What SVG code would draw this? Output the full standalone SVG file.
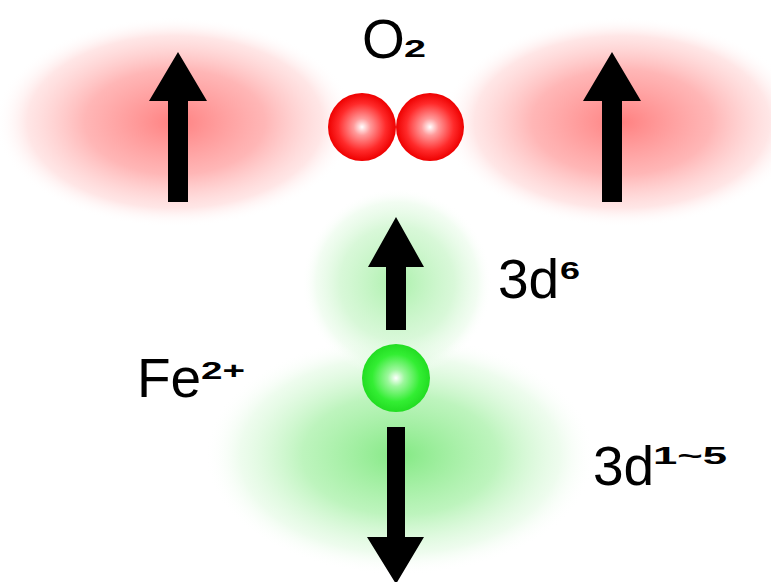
<svg xmlns="http://www.w3.org/2000/svg" width="771" height="582" viewBox="0 0 771 582">
<defs>
<radialGradient id="redCloud" cx="0.5" cy="0.5" r="0.5">
<stop offset="0" stop-color="#ff7a7a" stop-opacity="0.95"/>
<stop offset="0.5" stop-color="#ff9a9a" stop-opacity="0.72"/>
<stop offset="0.82" stop-color="#ffc4c4" stop-opacity="0.42"/>
<stop offset="1" stop-color="#ffffff" stop-opacity="0"/>
</radialGradient>
<radialGradient id="greenCloud" cx="0.5" cy="0.5" r="0.5">
<stop offset="0" stop-color="#7ee87e" stop-opacity="0.95"/>
<stop offset="0.5" stop-color="#a4f0a4" stop-opacity="0.72"/>
<stop offset="0.82" stop-color="#d6f8d6" stop-opacity="0.42"/>
<stop offset="1" stop-color="#ffffff" stop-opacity="0"/>
</radialGradient>
<radialGradient id="greenCloud2" cx="0.5" cy="0.5" r="0.5">
<stop offset="0" stop-color="#a8f0a8" stop-opacity="0.95"/>
<stop offset="0.6" stop-color="#c8f5c8" stop-opacity="0.7"/>
<stop offset="0.85" stop-color="#e2fae2" stop-opacity="0.45"/>
<stop offset="1" stop-color="#ffffff" stop-opacity="0"/>
</radialGradient>
<radialGradient id="redBall" cx="0.5" cy="0.5" r="0.5">
<stop offset="0" stop-color="#ffffff"/>
<stop offset="0.25" stop-color="#ff9a9a"/>
<stop offset="0.7" stop-color="#ff2a2a"/>
<stop offset="1" stop-color="#ee0000"/>
</radialGradient>
<radialGradient id="greenBall" cx="0.5" cy="0.5" r="0.5">
<stop offset="0" stop-color="#ffffff"/>
<stop offset="0.25" stop-color="#9cf79c"/>
<stop offset="0.7" stop-color="#33ee33"/>
<stop offset="1" stop-color="#22dd22"/>
</radialGradient>
<style>
.lbl{font-family:"Liberation Sans",Arial,sans-serif;fill:#000;font-size:55px}
.sup{font-family:"Liberation Sans",Arial,sans-serif;fill:#000;font-size:23px;font-weight:bold}
.arrow{fill:#000}
</style>
</defs>
<rect width="771" height="582" fill="#ffffff"/>
<g id="cloud-left-red"><ellipse cx="175" cy="122" rx="180" ry="105" fill="url(#redCloud)"/></g>
<g id="cloud-right-red"><ellipse cx="622" cy="122" rx="180" ry="105" fill="url(#redCloud)"/></g>
<g id="cloud-lower-green"><ellipse cx="400" cy="455" rx="195" ry="120" fill="url(#greenCloud)"/></g>
<g id="cloud-upper-green"><ellipse cx="397" cy="283" rx="95" ry="95" fill="url(#greenCloud2)"/></g>
<g id="o2">
<circle cx="362" cy="127" r="34" fill="url(#redBall)"/>
<circle cx="430" cy="127" r="34" fill="url(#redBall)"/>
<text class="lbl" x="362" y="58" font-size="52">O</text>
<text class="sup" x="404" y="57" textLength="22" lengthAdjust="spacingAndGlyphs">2</text>
</g>
<g id="fe">
<circle cx="396" cy="378" r="34" fill="url(#greenBall)"/>
<text class="lbl" x="137" y="397">Fe</text>
<text class="sup" x="201" y="379" textLength="44" lengthAdjust="spacingAndGlyphs">2+</text>
</g>
<g id="label-3d6">
<text class="lbl" x="498" y="298">3d</text>
<text class="sup" x="560" y="279" textLength="20" lengthAdjust="spacingAndGlyphs">6</text>
</g>
<g id="label-3d15">
<text class="lbl" x="593" y="485">3d</text>
<text class="sup" x="653" y="464" textLength="74" lengthAdjust="spacingAndGlyphs">1~5</text>
</g>
<g id="connectors">
<polygon class="arrow" points="168,202 188,202 188,101 207,101 178,52 149,101 168,101"/>
<polygon class="arrow" points="602,202 622,202 622,101 641,101 612,52 583,101 602,101"/>
<polygon class="arrow" points="386,330 406,330 406,267 424,267 396,217 368,267 386,267"/>
<polygon class="arrow" points="387,427 405,427 405,537 424,537 396,584 367,537 387,537"/>
</g>
</svg>
